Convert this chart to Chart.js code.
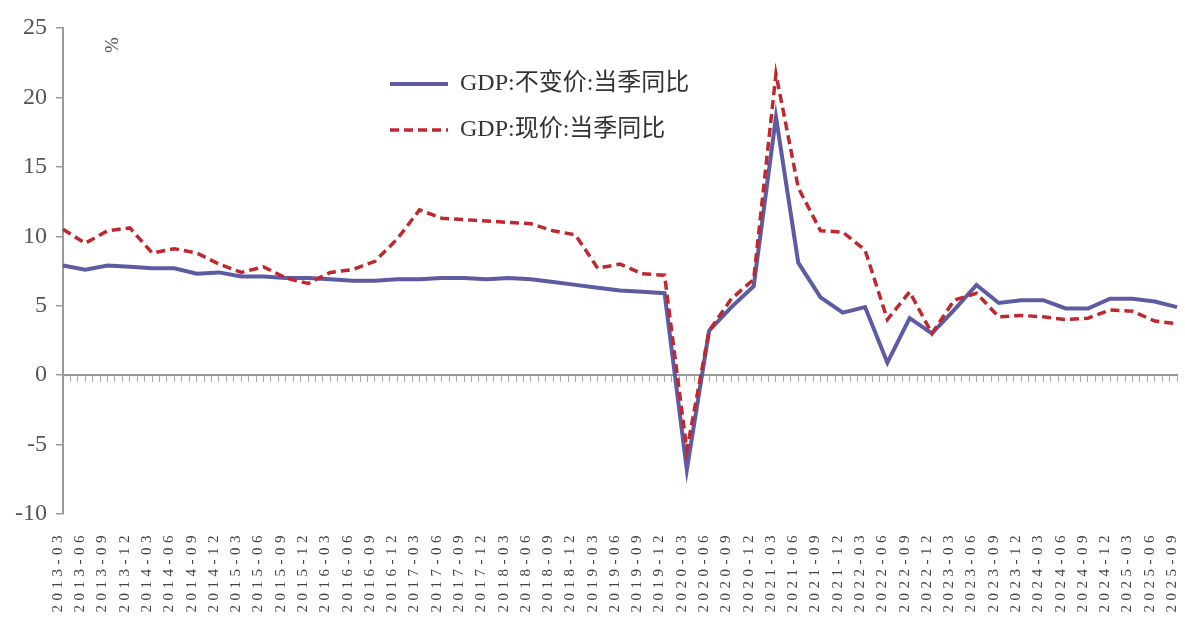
<!DOCTYPE html>
<html lang="zh">
<head>
    <meta charset="UTF-8">
    <title>GDP当季同比</title>
    <script src="https://cdn.jsdelivr.net/npm/chart.js"></script>
    <style>
        html, body { margin: 0; padding: 0; background: #fff; }
        .chart-wrapper { width: 1185px; height: 617px; }
    </style>
</head>
<body>
    <div class="chart-wrapper">
        <canvas id="gdpChart"></canvas>
    </div>

    <script>
        // 季度
        const quarters = [
            '2013-03', '2013-06', '2013-09', '2013-12',
            '2014-03', '2014-06', '2014-09', '2014-12',
            '2015-03', '2015-06', '2015-09', '2015-12',
            '2016-03', '2016-06', '2016-09', '2016-12',
            '2017-03', '2017-06', '2017-09', '2017-12',
            '2018-03', '2018-06', '2018-09', '2018-12',
            '2019-03', '2019-06', '2019-09', '2019-12',
            '2020-03', '2020-06', '2020-09', '2020-12',
            '2021-03', '2021-06', '2021-09', '2021-12',
            '2022-03', '2022-06', '2022-09', '2022-12',
            '2023-03', '2023-06', '2023-09', '2023-12',
            '2024-03', '2024-06', '2024-09', '2024-12',
            '2025-03', '2025-06', '2025-09'
        ];

        // GDP:不变价:当季同比 (%)
        const realGrowth = [
            7.9, 7.6, 7.9, 7.8,
            7.7, 7.7, 7.3, 7.4,
            7.1, 7.1, 7.0, 7.0,
            6.9, 6.8, 6.8, 6.9,
            6.9, 7.0, 7.0, 6.9,
            7.0, 6.9, 6.7, 6.5,
            6.3, 6.1, 6.0, 5.9,
            -6.8, 3.2, 4.9, 6.4,
            18.6, 8.1, 5.6, 4.5,
            4.9, 0.9, 4.1, 3.0,
            4.7, 6.5, 5.2, 5.4,
            5.4, 4.8, 4.8, 5.5,
            5.5, 5.3, 4.9
        ];

        // GDP:现价:当季同比 (%)
        const nominalGrowth = [
            10.5, 9.5, 10.4, 10.6,
            8.8, 9.1, 8.8, 8.0,
            7.4, 7.8, 7.0, 6.6,
            7.4, 7.6, 8.2, 9.8,
            11.9, 11.3, 11.2, 11.1,
            11.0, 10.9, 10.4, 10.1,
            7.7, 8.0, 7.3, 7.2,
            -5.4, 3.2, 5.5, 6.9,
            21.7, 13.5, 10.4, 10.3,
            9.0, 4.0, 6.0, 3.0,
            5.4, 5.9, 4.2, 4.3,
            4.2, 4.0, 4.1, 4.7,
            4.6, 3.9, 3.7
        ];

        const yTicks = [-10, -5, 0, 5, 10, 15, 20, 25];

        const fontFamily = "'Liberation Serif', 'Noto Sans CJK SC', serif";
        const axisColor = '#9a9a9a';

        // 横轴不额外占右侧边距
        function noSidePadding(scale) {
            scale.paddingLeft = 0;
            scale.paddingRight = 0;
        }

        // 横轴标签字距拉宽
        const xLabelSpacing = {
            id: 'xLabelSpacing',
            afterLayout(chart) {
                const sc = chart.scales.x;
                if (sc._spaced) return;
                const orig = sc.drawLabels.bind(sc);
                sc.drawLabels = function (area) {
                    chart.ctx.save();
                    chart.ctx.letterSpacing = '4.5px';
                    orig(area);
                    chart.ctx.restore();
                };
                sc._spaced = true;
            }
        };

        // 图例放到图中
        const legendPlace = {
            id: 'legendPlace',
            afterLayout(chart) {
                const lg = chart.legend;
                if (!lg) return;
                const pad = lg.options.labels.padding;
                const size = lg.options.labels.font.size;
                lg.left = 390 - pad;
                lg.top = 84 - pad - size / 2;
            }
        };

        // 单位
        const unitLabel = {
            id: 'unitLabel',
            afterDraw(chart) {
                const ctx = chart.ctx;
                ctx.save();
                ctx.translate(chart.chartArea.left + 50, chart.chartArea.top + 17);
                ctx.rotate(-Math.PI / 2);
                ctx.font = '19px ' + fontFamily;
                ctx.fillStyle = '#555';
                ctx.textAlign = 'center';
                ctx.textBaseline = 'middle';
                ctx.fillText('%', 0, 0);
                ctx.restore();
            }
        };

        function drawChart() {
            const ctx = document.getElementById('gdpChart').getContext('2d');

            new Chart(ctx, {
                type: 'line',
                data: {
                    labels: quarters,
                    datasets: [{
                        label: 'GDP:不变价:当季同比',
                        data: realGrowth,
                        borderColor: '#5d5ba3',
                        backgroundColor: '#5d5ba3',
                        borderWidth: 4,
                        pointRadius: 0,
                        tension: 0,
                        order: 1
                    }, {
                        label: 'GDP:现价:当季同比',
                        data: nominalGrowth,
                        borderColor: '#c0282f',
                        backgroundColor: '#c0282f',
                        borderWidth: 3.5,
                        borderDash: [9, 5],
                        pointRadius: 0,
                        tension: 0,
                        order: 0
                    }]
                },
                options: {
                    responsive: true,
                    maintainAspectRatio: false,
                    animation: false,
                    layout: {
                        padding: { top: 28, right: 8, left: 0, bottom: 0 }
                    },
                    scales: {
                        x: {
                            type: 'category',
                            offset: false,
                            grid: { display: false },
                            border: { display: false },
                            ticks: {
                                autoSkip: false,
                                minRotation: 90,
                                maxRotation: 90,
                                padding: 9,
                                labelOffset: -5,
                                color: '#444',
                                font: { family: fontFamily, size: 15 }
                            },
                            afterFit(scale) {
                                scale.height = 103;
                                noSidePadding(scale);
                            }
                        },
                        // 零线上的月度刻度
                        xZero: {
                            type: 'linear',
                            axis: 'x',
                            position: { y: 0 },
                            min: 0,
                            max: 150,
                            grid: {
                                drawOnChartArea: false,
                                drawTicks: true,
                                tickLength: 6,
                                color: '#aaa',
                                lineWidth: 1
                            },
                            border: { color: axisColor, width: 2 },
                            ticks: { stepSize: 1, display: false },
                            afterFit: noSidePadding
                        },
                        y: {
                            min: -10,
                            max: 25,
                            afterBuildTicks(scale) {
                                scale.ticks = yTicks.map(v => ({ value: v }));
                            },
                            grid: {
                                drawOnChartArea: false,
                                tickLength: 7,
                                color: axisColor,
                                lineWidth: 1.5
                            },
                            border: { color: axisColor, width: 2 },
                            ticks: {
                                padding: 9,
                                color: '#555',
                                font: { family: fontFamily, size: 24 }
                            },
                            afterFit(scale) { scale.width = 63; }
                        }
                    },
                    plugins: {
                        legend: {
                            position: 'chartArea',
                            align: 'start',
                            labels: {
                                usePointStyle: true,
                                pointStyle: 'line',
                                pointStyleWidth: 58,
                                padding: 22,
                                color: '#333',
                                font: { family: fontFamily, size: 24 },
                                sort: (a, b) => a.datasetIndex - b.datasetIndex,
                                generateLabels(chart) {
                                    const base = Chart.defaults.plugins.legend.labels.generateLabels(chart);
                                    return base.map(item => {
                                        const ds = chart.data.datasets[item.datasetIndex];
                                        return Object.assign(item, {
                                            strokeStyle: ds.borderColor,
                                            lineWidth: ds.borderWidth,
                                            lineDash: ds.borderDash || []
                                        });
                                    });
                                }
                            }
                        },
                        tooltip: { enabled: false }
                    }
                },
                plugins: [xLabelSpacing, legendPlace, unitLabel]
            });
        }

        window.addEventListener('load', drawChart);
    </script>
</body>
</html>
